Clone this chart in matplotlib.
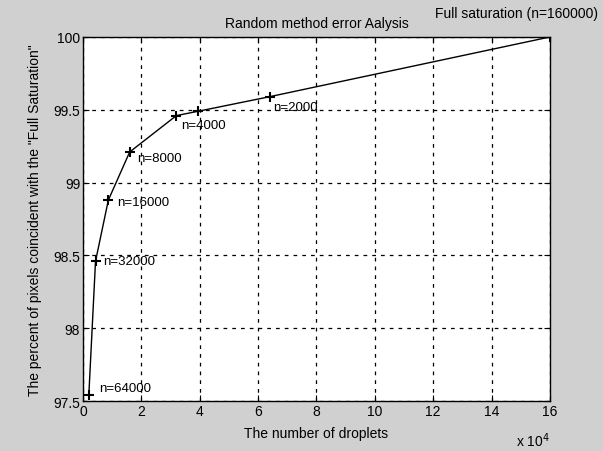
import matplotlib
matplotlib.use("Agg")
import matplotlib.pyplot as plt
import numpy as np

# droplet counts (x 10^4) and percent of pixels coincident with full saturation
droplets = [0.2, 0.43, 0.87, 1.6, 3.2, 3.95, 6.4, 16.0]
percent = [97.54, 98.46, 98.88, 99.21, 99.46, 99.49, 99.59, 100.0]
point_labels = ["n=64000", "n=32000", "n=16000", "n=8000", "n=4000", "", "n=2000",
                "Full saturation (n=160000)"]
label_offsets = [(0.35, 0.05), (0.25, 0.0), (0.3, -0.01), (0.27, -0.04),
                 (0.18, -0.065), (0, 0), (0.1, -0.07), (-3.95, 0.165)]

plt.rcParams["font.family"] = ["Liberation Sans", "DejaVu Sans"]
plt.rcParams["font.size"] = 10

fig = plt.figure(figsize=(6.03, 4.52), dpi=100, facecolor="#d0d0d0")
ax = fig.add_axes([0.1376, 0.1106, 0.7744, 0.8054])
ax.set_facecolor("white")

ax.plot(droplets, percent, "-", color="black", lw=1.0,
        marker="+", markersize=7, mew=1.5)

for x, y, lab, (dx, dy) in zip(droplets, percent, point_labels, label_offsets):
    if lab:
        fs = 10 if lab.startswith("Full") else 9.5
        ax.text(x + dx, y + dy, lab, fontsize=fs, va="center", ha="left", clip_on=False)

ax.set_xlim(0, 16)
ax.set_ylim(97.5, 100)
ax.set_xticks(np.arange(0, 17, 2))
ax.set_yticks([97.5, 98, 98.5, 99, 99.5, 100])
ax.set_yticklabels(["97.5", "98", "98.5", "99", "99.5", "100"])
ax.grid(True, color="black", linestyle=(0, (3, 4)), linewidth=0.9)
ax.tick_params(direction="in", length=4, top=True, right=True, pad=2)
for s in ax.spines.values():
    s.set_linewidth(1.0)

ax.set_title("Random method error Aalysis", fontsize=10, pad=7)
ax.set_xlabel("The number of droplets", labelpad=6)
ax.set_ylabel("The percent of pixels coincident with the \"Full Saturation\"")
ax.yaxis.set_label_coords(-0.088, 0.5)
ax.text(1.0, -0.08, r"x 10$^4$", transform=ax.transAxes, ha="right", va="top", fontsize=10)

fig.savefig("out.png", dpi=100, facecolor=fig.get_facecolor())
